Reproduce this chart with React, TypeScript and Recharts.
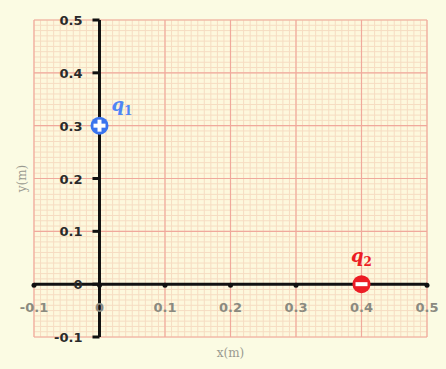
import React from 'react';
import { ScatterChart, Scatter, XAxis, YAxis, CartesianGrid, ReferenceLine } from 'recharts';

// axis ticks (metres)
const xTickValues = [-0.1, 0, 0.1, 0.2, 0.3, 0.4, 0.5];
const xTickLabels = ['-0.1', '0', '0.1', '0.2', '0.3', '0.4', '0.5'];
const yTickValues = [-0.1, 0, 0.1, 0.2, 0.3, 0.4, 0.5];
const yTickLabels = ['-0.1', '0', '0.1', '0.2', '0.3', '0.4', '0.5'];

// charges
const chargeNames = ['q1', 'q2'];
const chargeX = [0, 0.4];
const chargeY = [0.3, 0];
const chargeSigns = ['+', '-'];

// graph paper minor lines every 0.01 m
const minorStep = (from: number, to: number) => {
  const out: number[] = [];
  for (let i = Math.round(from * 100); i <= Math.round(to * 100); i++) out.push(i / 100);
  return out;
};
const xMinor = minorStep(-0.1, 0.5);
const yMinor = minorStep(-0.1, 0.5);

const xTickData = xTickValues.map((x, i) => ({ x, y: 0, label: xTickLabels[i] }));
const yTickData = yTickValues.map((y, i) => ({ x: 0, y, label: yTickLabels[i] }));
const chargeData = chargeNames.map((name, i) => ({
  x: chargeX[i],
  y: chargeY[i],
  name,
  sign: chargeSigns[i],
}));

// axis ticks are drawn by the scatter shapes below; the axes only feed the grid
const NoTick = () => <g />;

const XTickMark = (props: any) => {
  const { cx, cy, payload } = props;
  return (
    <g>
      <circle cx={cx} cy={cy + 1} r={2.5} fill="#111" />
      <text
        x={cx}
        y={cy + 28}
        textAnchor="middle"
        fontFamily="DejaVu Sans"
        fontWeight="bold"
        fontSize={13}
        fill="#8a8a80"
      >
        {payload.label}
      </text>
    </g>
  );
};

const YTickMark = (props: any) => {
  const { cx, cy, payload } = props;
  return (
    <g>
      <line x1={cx - 7} y1={cy} x2={cx} y2={cy} stroke="#111" strokeWidth={3} />
      <text
        x={cx - 17}
        y={cy + 5}
        textAnchor="end"
        fontFamily="DejaVu Sans"
        fontWeight="bold"
        fontSize={13}
        fill="#2a2a2a"
      >
        {payload.label}
      </text>
    </g>
  );
};

const ChargeMark = (props: any) => {
  const { cx, cy, payload } = props;
  const positive = payload.sign === '+';
  const color = positive ? '#3a74ee' : '#ec1c24';
  const labelColor = positive ? '#4f86f5' : '#ec1c24';
  const sub = payload.name.slice(1);
  return (
    <g>
      <circle cx={cx} cy={cy} r={9} fill={color} />
      {positive ? (
        <g stroke="#fff" strokeWidth={4}>
          <line x1={cx - 6} y1={cy} x2={cx + 6} y2={cy} />
          <line x1={cx} y1={cy - 6} x2={cx} y2={cy + 6} />
        </g>
      ) : (
        <rect x={cx - 6} y={cy - 2} width={12} height={4} fill="#fff" />
      )}
      <text
        x={positive ? cx + 12 : cx}
        y={positive ? cy - 15 : cy - 22}
        textAnchor={positive ? 'start' : 'middle'}
        fontFamily="DejaVu Serif"
        fontStyle="italic"
        fontWeight="bold"
        fontSize={18}
        fill={labelColor}
      >
        q
        <tspan fontSize={12} dy={4} fontStyle="normal">
          {sub}
        </tspan>
      </text>
    </g>
  );
};

export default function App() {
  return (
    <div
      style={{
        position: 'fixed',
        left: 0,
        top: 0,
        width: 446,
        height: 369,
        background: '#fbfbe3',
      }}
    >
      <ScatterChart width={446} height={369} margin={{ top: 20, right: 19, bottom: 0, left: 10 }}>
        <XAxis
          type="number"
          dataKey="x"
          domain={[-0.1, 0.5]}
          ticks={xTickValues}
          interval={0}
          height={32}
          tick={NoTick}
          axisLine={false}
          tickLine={false}
          label={{ value: 'x(m)', position: 'center', fill: '#9a9a90', fontSize: 12, fontFamily: 'DejaVu Serif' }}
        />
        <YAxis
          type="number"
          dataKey="y"
          domain={[-0.1, 0.5]}
          ticks={yTickValues}
          interval={0}
          width={24}
          tick={NoTick}
          axisLine={false}
          tickLine={false}
          label={{ value: 'y(m)', position: 'center', angle: -90, fill: '#9a9a90', fontSize: 12, fontFamily: 'DejaVu Serif' }}
        />
        <CartesianGrid
          verticalValues={xMinor}
          horizontalValues={yMinor}
          stroke="#f6dcc2"
          strokeWidth={1}
          fill="#fdf8dd"
        />
        <CartesianGrid
          verticalValues={xTickValues}
          horizontalValues={yTickValues}
          stroke="#f0a99c"
          strokeWidth={1.2}
        />
        <ReferenceLine y={0} stroke="#111" strokeWidth={3} />
        <ReferenceLine x={0} stroke="#111" strokeWidth={3} />
        <Scatter data={xTickData} shape={XTickMark} isAnimationActive={false} />
        <Scatter data={yTickData} shape={YTickMark} isAnimationActive={false} />
        <Scatter data={chargeData} shape={ChargeMark} isAnimationActive={false} />
      </ScatterChart>
    </div>
  );
}
